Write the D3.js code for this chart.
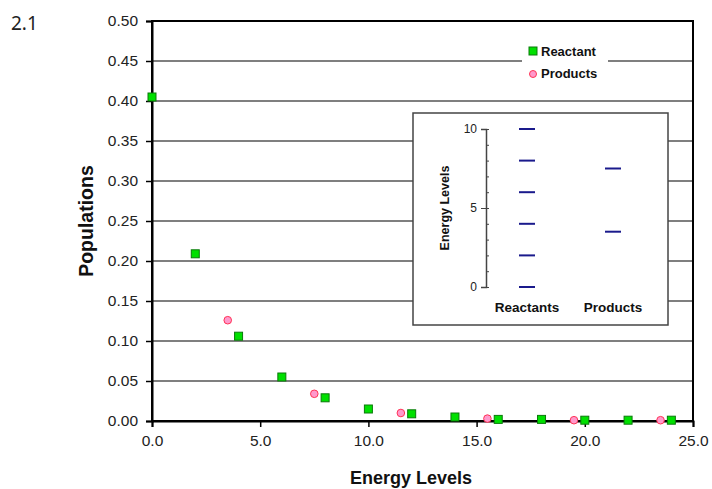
<!DOCTYPE html>
<html>
<head>
<meta charset="utf-8">
<script src="https://cdn.jsdelivr.net/npm/d3@7"></script>
<style>
  body { margin: 0; background: #fff; }
  svg { font-family: "Liberation Sans", Arial, sans-serif; }
</style>
</head>
<body>
<div id="chart"></div>
<script>
// main chart data
const reactantX = [0, 2, 4, 6, 8, 10, 12, 14, 16, 18, 20, 22, 24];
const reactantY = [0.405, 0.209, 0.106, 0.055, 0.029, 0.015, 0.009, 0.005, 0.002, 0.002, 0.001, 0.001, 0.001];
const productX = [3.5, 7.5, 11.5, 15.5, 19.5, 23.5];
const productY = [0.126, 0.034, 0.010, 0.003, 0.001, 0.001];
const xTicks = [0, 5, 10, 15, 20, 25];
const yTicks = [0, 0.05, 0.1, 0.15, 0.2, 0.25, 0.3, 0.35, 0.4, 0.45, 0.5];

// inset data
const insetCats = ['Reactants', 'Products'];
const insetReactLevels = [0, 2, 4, 6, 8, 10];
const insetProdLevels = [3.5, 7.5];
const insetTicks = [0, 5, 10];

const width = 712, height = 489;
const svg = d3.select('#chart').append('svg')
  .attr('width', width).attr('height', height);

svg.append('text').attr('x', 11).attr('y', 30)
  .attr('font-family', '"Noto Sans", sans-serif')
  .attr('font-size', 19).attr('fill', '#222').text('2.1');

const pl = 152, pr = 693, pt = 21, pb = 421;
const x = d3.scaleLinear().domain([0, 25]).range([pl, pr]);
const y = d3.scaleLinear().domain([0, 0.5]).range([pb, pt]);

// gridlines
svg.append('g').selectAll('line').data(yTicks).enter().append('line')
  .attr('x1', pl).attr('x2', pr)
  .attr('y1', d => y(d)).attr('y2', d => y(d))
  .attr('stroke', '#555').attr('stroke-width', 1.5);

// frame
svg.append('rect').attr('x', pl).attr('y', pt)
  .attr('width', pr - pl).attr('height', pb - pt)
  .attr('fill', 'none').attr('stroke', '#000').attr('stroke-width', 2);

// axes
const yAxis = svg.append('g').attr('transform', `translate(${pl},0)`)
  .call(d3.axisLeft(y).tickValues(yTicks).tickFormat(d3.format('.2f')).tickSize(6).tickPadding(8));
const xAxis = svg.append('g').attr('transform', `translate(0,${pb})`)
  .call(d3.axisBottom(x).tickValues(xTicks).tickFormat(d3.format('.1f')).tickSize(6).tickPadding(8));
[yAxis, xAxis].forEach(a => {
  a.select('.domain').attr('stroke', '#000').attr('stroke-width', 2);
  a.selectAll('.tick line').attr('stroke', '#000').attr('stroke-width', 1.5);
  a.selectAll('.tick text').attr('font-size', 15.5).attr('fill', '#222');
});

// inset
const ix0 = 413, iy0 = 113, iw = 255, ih = 212;
svg.append('rect').attr('x', ix0).attr('y', iy0).attr('width', iw).attr('height', ih)
  .attr('fill', '#fff').attr('stroke', '#444').attr('stroke-width', 1.5);
const iy = d3.scaleLinear().domain([0, 10]).range([287, 129]);
const iAxis = svg.append('g').attr('transform', 'translate(486,0)')
  .call(d3.axisLeft(iy).tickValues(insetTicks).tickSize(5).tickPadding(4));
svg.append('g').attr('transform', 'translate(486,0)')
  .call(d3.axisRight(iy).ticks(10).tickSize(3).tickFormat(''))
  .call(g => g.select('.domain').remove())
  .selectAll('line').attr('stroke', '#444');
iAxis.select('.domain').attr('stroke', '#444').attr('stroke-width', 1.5);
iAxis.selectAll('.tick line').attr('stroke', '#444');
iAxis.selectAll('.tick text').attr('font-size', 12).attr('fill', '#222');
svg.append('text')
  .attr('transform', `translate(449,${iy(5)}) rotate(-90)`)
  .attr('text-anchor', 'middle').attr('font-size', 12.5).attr('font-weight', 'bold')
  .attr('fill', '#111').text('Energy Levels');

const levelSets = [insetReactLevels, insetProdLevels];
levelSets.forEach((levels, i) => {
  const cx = i === 0 ? 527 : 613;
  svg.append('g').selectAll('line').data(levels).enter().append('line')
    .attr('x1', cx - 8).attr('x2', cx + 8)
    .attr('y1', d => iy(d)).attr('y2', d => iy(d))
    .attr('stroke', '#1a1a8c').attr('stroke-width', 2);
  svg.append('text').attr('x', cx).attr('y', 312)
    .attr('text-anchor', 'middle').attr('font-size', 13.5).attr('font-weight', 'bold')
    .attr('fill', '#111').text(insetCats[i]);
});

// legend
svg.append('rect').attr('x', 522).attr('y', 42).attr('width', 86).attr('height', 40).attr('fill', '#fff');
svg.append('rect').attr('x', 529).attr('y', 47).attr('width', 8).attr('height', 8)
  .attr('fill', '#00e000').attr('stroke', '#0a7a0a').attr('stroke-width', 1);
svg.append('text').attr('x', 541).attr('y', 56).attr('font-size', 13).attr('font-weight', 'bold')
  .attr('fill', '#111').text('Reactant');
svg.append('circle').attr('cx', 533).attr('cy', 74).attr('r', 3.5)
  .attr('fill', '#ff99cc').attr('stroke', '#ff3355').attr('stroke-width', 1);
svg.append('text').attr('x', 541).attr('y', 78).attr('font-size', 13).attr('font-weight', 'bold')
  .attr('fill', '#111').text('Products');

// points
svg.append('g').selectAll('circle').data(productX.map((d, i) => [d, productY[i]])).enter()
  .append('circle')
  .attr('cx', d => x(d[0])).attr('cy', d => y(d[1])).attr('r', 3.8)
  .attr('fill', '#ff99cc').attr('stroke', '#ff3355').attr('stroke-width', 1);
svg.append('g').selectAll('rect').data(reactantX.map((d, i) => [d, reactantY[i]])).enter()
  .append('rect')
  .attr('x', d => x(d[0]) - 4).attr('y', d => y(d[1]) - 4)
  .attr('width', 8).attr('height', 8)
  .attr('fill', '#00e000').attr('stroke', '#0a7a0a').attr('stroke-width', 1);

// axis titles
svg.append('text').attr('x', 411).attr('y', 484)
  .attr('text-anchor', 'middle').attr('font-size', 18).attr('font-weight', 'bold')
  .attr('fill', '#111').text('Energy Levels');
svg.append('text').attr('transform', `translate(93,${(pt + pb) / 2}) rotate(-90)`)
  .attr('text-anchor', 'middle').attr('font-size', 19.5).attr('font-weight', 'bold')
  .attr('fill', '#111').text('Populations');
</script>
</body>
</html>
